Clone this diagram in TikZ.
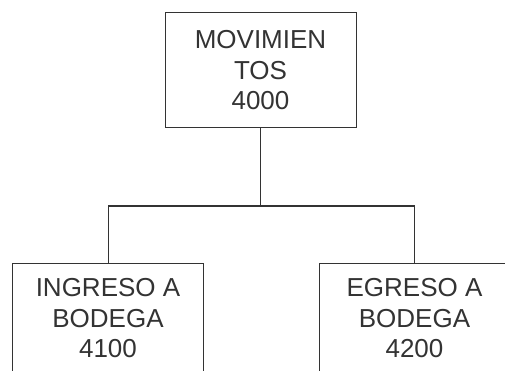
\documentclass[tikz,border=0pt]{standalone}
\usepackage{fontspec}
\setmainfont{Liberation Sans}
\begin{document}
\begin{tikzpicture}[x=1pt,y=-1pt,
    box/.style={draw=black!80,line width=1pt,text=black!80,align=center,
      minimum width=191pt,font=\fontsize{26}{30.5}\selectfont},
    link/.style={draw=black!80,line width=1pt}]
  \useasboundingbox (0,0) rectangle (505,371);
  \node[box,minimum height=115pt] (mov) at (260.5,70.5) {MOVIMIEN\\TOS\\4000};
  \node[box,minimum height=111pt] (ing) at (108,318.5) {INGRESO A\\BODEGA\\4100};
  \node[box,minimum height=111pt] (egr) at (414.5,318.5) {EGRESO A\\BODEGA\\4200};
  \coordinate (j) at (260.5,206);

  \draw[link] (mov) -- (j);
  \foreach \b in {ing,egr}{\draw[link] (j) -| (\b.north); }
\end{tikzpicture}
\end{document}
